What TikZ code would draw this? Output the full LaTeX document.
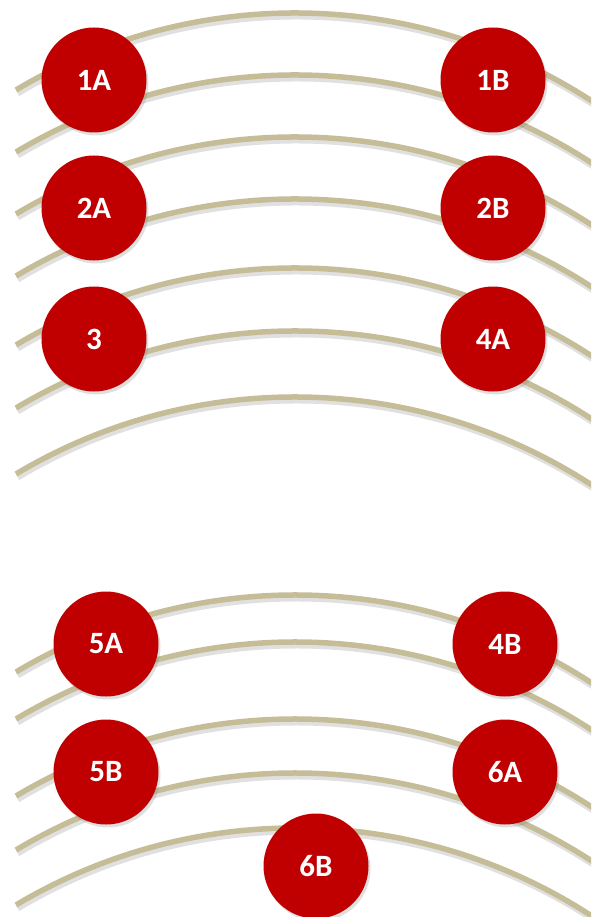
\documentclass[tikz,border=0pt]{standalone}
\usepackage{fontspec}
\newfontfamily\circlefont{Carlito}
\usetikzlibrary{shadows}
\definecolor{arcTan}{HTML}{C4BD97}
\definecolor{dotRed}{HTML}{C00000}

\begin{document}
\begin{tikzpicture}
[x=1pt,y=-1pt,%
  nodeDecorate/.style={shape=circle,minimum size=105pt,inner sep=0pt,fill=dotRed,text=white,%
    font=\circlefont\bfseries\fontsize{31}{31}\selectfont,%
    drop shadow={shadow xshift=2pt,shadow yshift=-3pt,opacity=0.25}},%
  arcDecorate/.style={arcTan,line width=5.5pt},%
  arcShadow/.style={black,opacity=0.12,line width=7pt}]
\clip (0,0) rectangle (591,917);
%% arcs
\foreach \apex in {13,75,137,199,268,331,397,595,642,719,773,828}
{
  \draw[arcShadow] (17.5,\apex+80) arc[start angle=120.86,end angle=55,radius=544pt];
  \draw[arcDecorate] (16,\apex+77) arc[start angle=120.86,end angle=55,radius=544pt];
}
%% nodes or circles
\foreach \nodename/\x/\y in {1A/94/80, 1B/493/80, 2A/94/208, 2B/493/208, 3/94/339, 4A/493/339,
  5A/106/644, 4B/505/644, 5B/106/772, 6A/505/772, 6B/316/866}
{
  \node (\nodename) at (\x,\y) [nodeDecorate] {\nodename};
}
\end{tikzpicture}
\end{document}
